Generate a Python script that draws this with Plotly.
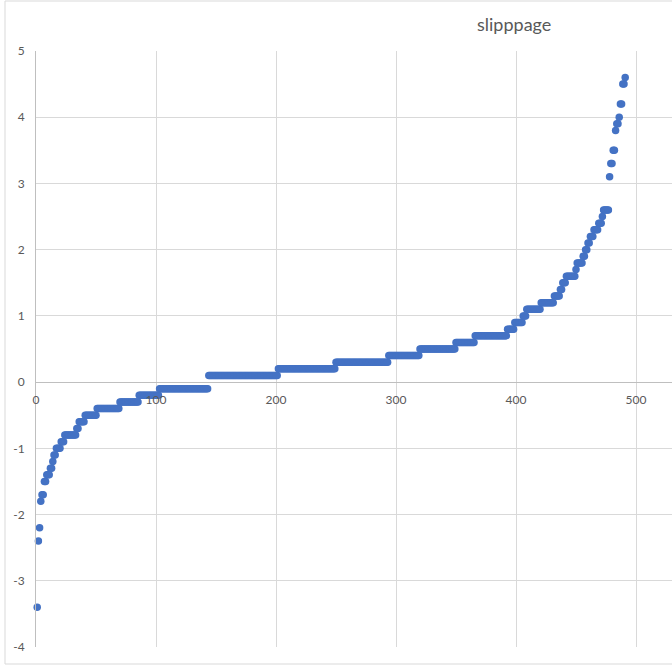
import plotly.graph_objects as go

# Sorted slippage values as (level, number of points at that level)
levels = [-3.4, -2.4, -2.2, -1.8, -1.7, -1.5, -1.4, -1.3, -1.2, -1.1, -1.0, -0.9, -0.8, -0.7,
          -0.6, -0.5, -0.4, -0.3, -0.2, -0.1, 0.1, 0.2, 0.3, 0.4, 0.5, 0.6, 0.7, 0.8, 0.9,
          1.0, 1.1, 1.2, 1.3, 1.4, 1.5, 1.6, 1.7, 1.8, 1.9, 2.0, 2.1, 2.2, 2.3, 2.4, 2.5,
          2.6, 3.1, 3.3, 3.5, 3.8, 3.9, 4.0, 4.2, 4.5, 4.6]
counts = [1, 1, 1, 1, 2, 2, 3, 2, 1, 2, 4, 3, 10, 2,
          5, 10, 19, 16, 17, 41, 58, 48, 44, 26, 30, 16, 27, 6, 7,
          3, 12, 11, 5, 2, 3, 8, 1, 5, 2, 2, 2, 3, 4, 3, 1,
          5, 1, 2, 2, 1, 2, 1, 2, 2, 1]

y_vals = []
for lv, c in zip(levels, counts):
    y_vals.extend([lv] * c)
x_vals = list(range(1, len(y_vals) + 1))

x_ticks = [0, 100, 200, 300, 400, 500]
y_ticks = [-4, -3, -2, -1, 0, 1, 2, 3, 4, 5]
title_text = "slipppage"

W, H = 672, 669
ml, mr, mt, mb = 36, 0, 51, 22
pw = W - ml - mr
ph = H - mt - mb

def px_to_paper_x(px):
    return (px - ml) / pw

def px_to_paper_y(py):
    return (H - mb - py) / ph

grid = "#d9d9d9"
txt = "#595959"
font_family = "Lato, Carlito, Calibri, sans-serif"

fig = go.Figure()
fig.add_trace(go.Scatter(
    x=x_vals, y=y_vals, mode="markers",
    marker=dict(size=7.5, color="#4472C4", line=dict(width=0)),
    showlegend=False, cliponaxis=False,
))

ymin, ymax = -4, 5
fig.update_layout(
    width=W, height=H, autosize=False,
    margin=dict(l=ml, r=mr, t=mt, b=mb, pad=0),
    paper_bgcolor="white", plot_bgcolor="white",
    font=dict(family=font_family, size=12, color=txt),
    xaxis=dict(
        range=[0, 530], tickvals=x_ticks, ticktext=[str(v) for v in x_ticks],
        showgrid=True, gridcolor=grid, gridwidth=1,
        zeroline=False, showline=True, linecolor="#bfbfbf", linewidth=1,
        anchor="free", position=(0 - ymin) / (ymax - ymin),
        ticks="", ticklabelstandoff=6,
        tickfont=dict(family=font_family, size=12, color=txt),
    ),
    yaxis=dict(
        range=[ymin, ymax], tickvals=y_ticks, ticktext=[str(v) for v in y_ticks],
        showgrid=True, gridcolor=grid, gridwidth=1,
        zeroline=False, showline=True, linecolor="#bfbfbf", linewidth=1,
        ticks="", ticklabelstandoff=8,
        tickfont=dict(family=font_family, size=12, color=txt),
    ),
    annotations=[dict(
        text=title_text, xref="paper", yref="paper",
        x=px_to_paper_x(514), y=px_to_paper_y(24),
        xanchor="center", yanchor="middle", showarrow=False,
        font=dict(family=font_family, size=18, color=txt),
    )],
    shapes=[dict(
        type="rect", xref="paper", yref="paper",
        x0=px_to_paper_x(5), x1=px_to_paper_x(700),
        y0=px_to_paper_y(664), y1=px_to_paper_y(1),
        line=dict(color=grid, width=1), fillcolor="rgba(0,0,0,0)", layer="below",
    )],
)

fig.write_html("out.html")
